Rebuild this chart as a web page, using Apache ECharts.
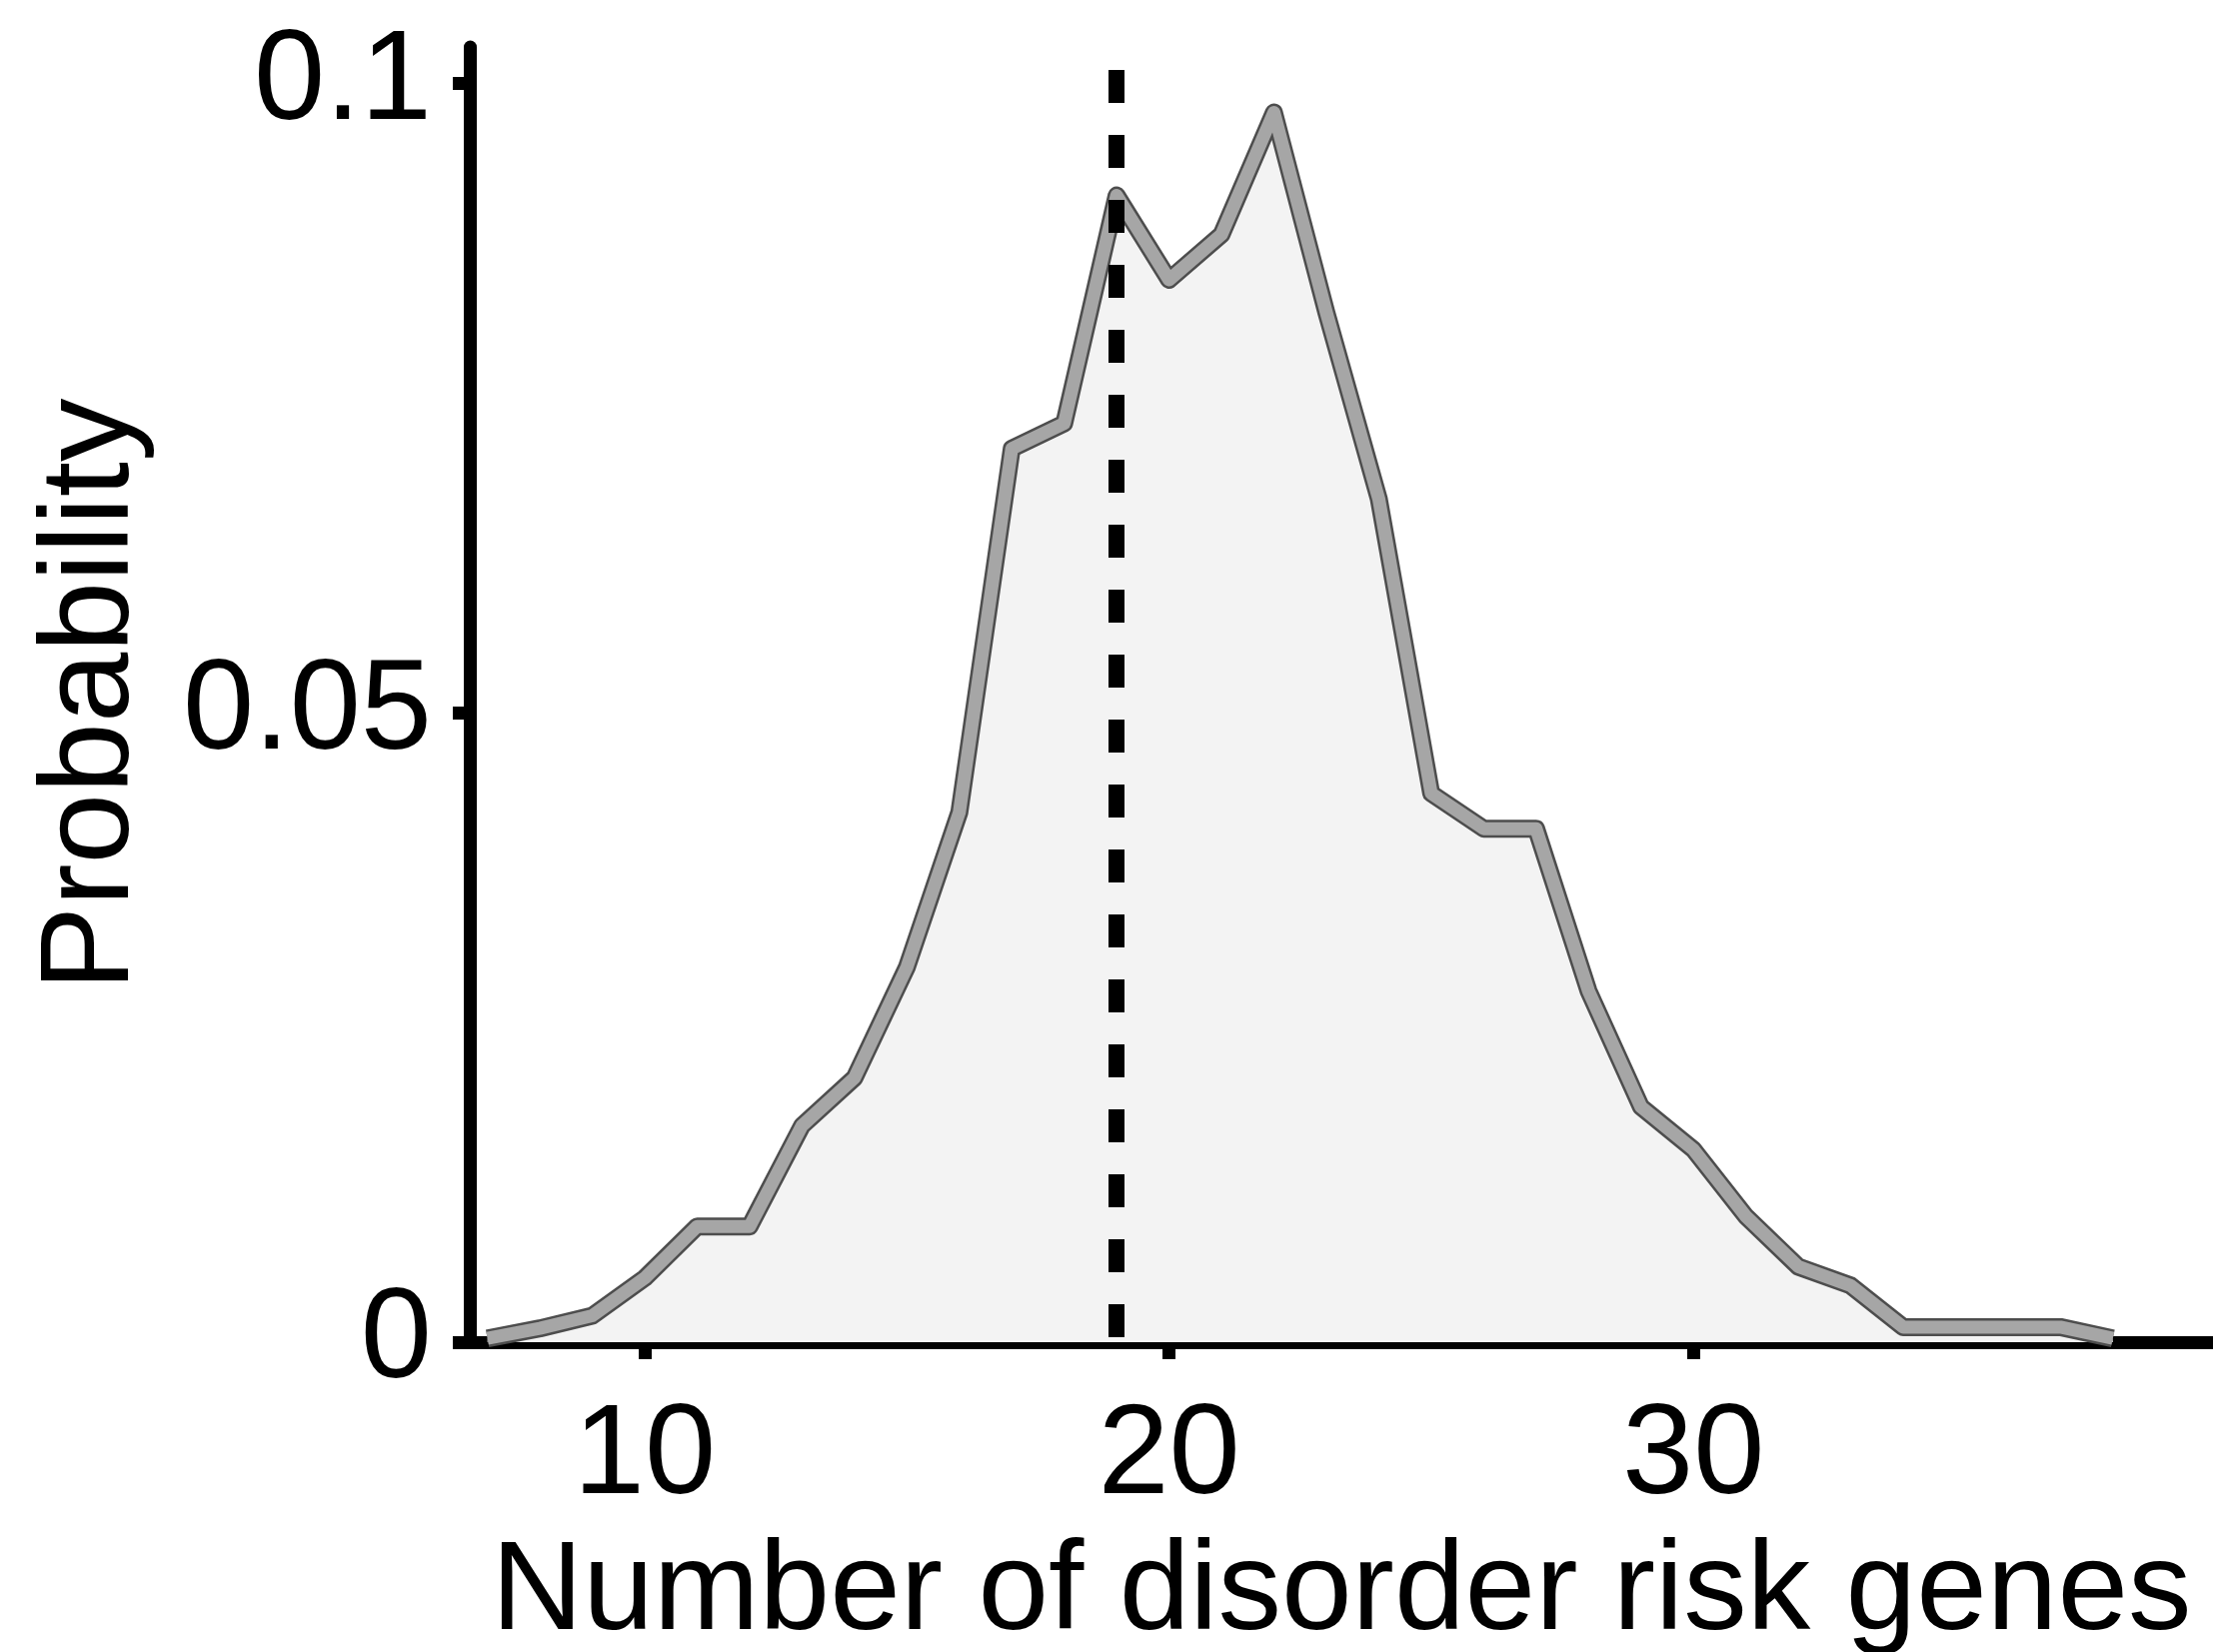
<!DOCTYPE html>
<html>
<head>
<meta charset="utf-8">
<script src="https://cdn.jsdelivr.net/npm/echarts@6/dist/echarts.min.js"></script>
<style>
  html, body { margin: 0; padding: 0; background: #fff; }
  #main { width: 2214px; height: 1653px; }
</style>
</head>
<body>
<div id="main"></div>
<script>
// 横轴：风险基因数量
const geneCounts = [7, 8, 9, 10, 11, 12, 13, 14, 15, 16, 17, 18, 19, 20, 21, 22,
  23, 24, 25, 26, 27, 28, 29, 30, 31, 32, 33, 34, 35, 36, 37, 38];
// 纵轴：概率
const probability = [0.0003, 0.0011, 0.0021, 0.0051, 0.0092, 0.0092, 0.0172, 0.0210,
  0.0298, 0.0421, 0.0710, 0.0730, 0.0911, 0.0844, 0.0880, 0.0977,
  0.0818, 0.0670, 0.0436, 0.0408, 0.0408, 0.0279, 0.0187, 0.0153,
  0.0100, 0.0060, 0.0045, 0.0012, 0.0012, 0.0012, 0.0012, 0.0003];
// 刻度
const xTicks = [10, 20, 30];
const yTicks = [0, 0.05, 0.1];
// 观测值（虚线）
const observedCount = 19;

const font = '"Liberation Sans", Arial, Helvetica, sans-serif';

var chartDom = document.getElementById('main');
var myChart = echarts.init(chartDom);

const points = geneCounts.map((x, i) => [x, probability[i]]);

var option = {
  animation: false,
  backgroundColor: '#fff',
  textStyle: { fontFamily: font },
  // 固定绘图区，不让标签挤压网格
  grid: { left: 470, right: 0, top: 47, bottom: 310, containLabel: false, outerBoundsMode: 'none' },
  xAxis: {
    type: 'value',
    min: 6.663,
    max: 39.91,
    name: 'Number of disorder risk genes',
    nameLocation: 'middle',
    nameGap: 188,
    nameTextStyle: { fontSize: 127, color: '#000', fontFamily: font },
    splitLine: { show: false },
    axisLine: { lineStyle: { color: '#000', width: 13 } },
    axisTick: { customValues: xTicks, length: 17, lineStyle: { color: '#000', width: 13 } },
    axisLabel: { customValues: xTicks, margin: 52, fontSize: 128, color: '#000', fontFamily: font }
  },
  yAxis: {
    type: 'value',
    min: 0,
    max: 0.1029,
    name: 'Probability',
    nameLocation: 'middle',
    nameGap: 314,
    nameTextStyle: { fontSize: 127, color: '#000', fontFamily: font },
    splitLine: { show: false },
    axisLine: { lineStyle: { color: '#000', width: 13 } },
    axisTick: { customValues: yTicks, length: 17, lineStyle: { color: '#000', width: 13 } },
    axisLabel: {
      customValues: yTicks,
      margin: 38,
      fontSize: 128,
      color: '#000',
      fontFamily: font,
      padding: [16, 0, 0, 0],
      formatter: v => (v === 0 ? '0' : String(v))
    }
  },
  series: [
    {
      // 外轮廓 + 填充
      type: 'line',
      data: points,
      symbol: 'none',
      clip: false,
      lineStyle: { color: '#4d4d4d', width: 18, join: 'round' },
      areaStyle: { color: '#f3f3f3', opacity: 1 }
    },
    {
      // 灰色线芯
      type: 'line',
      data: points,
      symbol: 'none',
      clip: false,
      lineStyle: { color: '#a6a6a6', width: 13, join: 'round' },
      markLine: {
        silent: true,
        symbol: 'none',
        label: { show: false },
        lineStyle: { color: '#000', width: 16, type: [33, 32], dashOffset: -5 },
        data: [{ xAxis: observedCount }]
      }
    }
  ]
};

option && myChart.setOption(option);
</script>
</body>
</html>
